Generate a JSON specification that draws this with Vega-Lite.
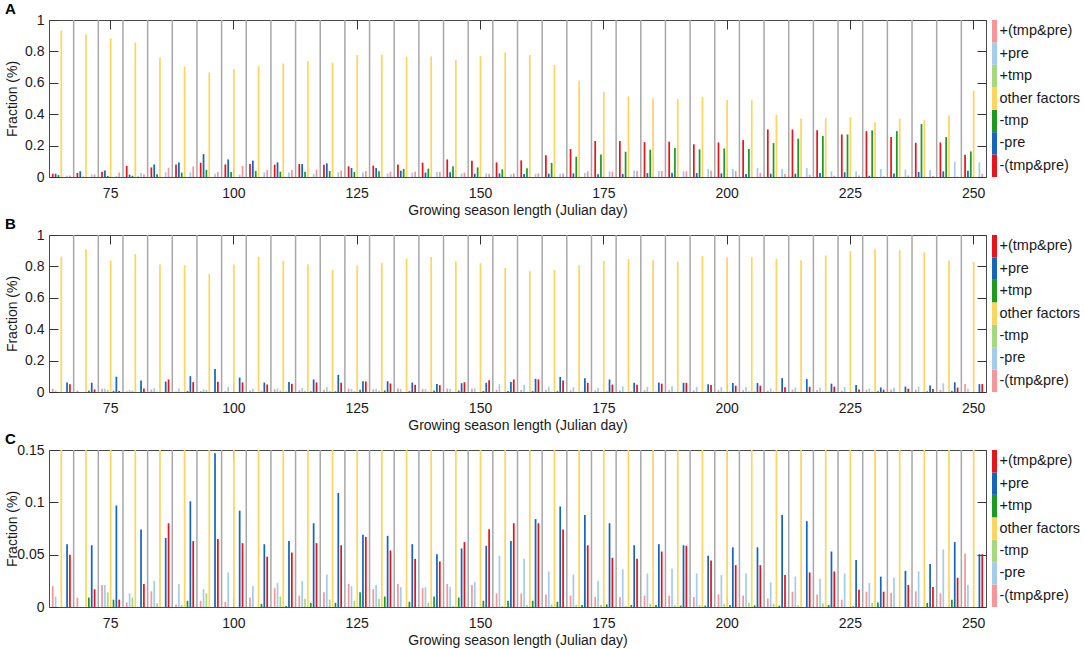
{
  "$schema": "https://vega.github.io/schema/vega-lite/v6.json",
  "padding": {"left": 4, "top": 1, "right": 0, "bottom": 0},
  "datasets": {
    "panelA": [
      {"day": 65, "neg_both": 0.021, "neg_pre": 0.021, "neg_tmp": 0.012, "other": 0.932, "pos_tmp": 0, "pos_pre": 0.008, "pos_both": 0.009},
      {"day": 70, "neg_both": 0.026, "neg_pre": 0.036, "neg_tmp": 0.002, "other": 0.909, "pos_tmp": 0, "pos_pre": 0.017, "pos_both": 0.017},
      {"day": 75, "neg_both": 0.034, "neg_pre": 0.042, "neg_tmp": 0.007, "other": 0.883, "pos_tmp": 0, "pos_pre": 0.006, "pos_both": 0.028},
      {"day": 80, "neg_both": 0.07, "neg_pre": 0.015, "neg_tmp": 0.008, "other": 0.857, "pos_tmp": 0.008, "pos_pre": 0.025, "pos_both": 0.017},
      {"day": 85, "neg_both": 0.061, "neg_pre": 0.08, "neg_tmp": 0.017, "other": 0.76, "pos_tmp": 0, "pos_pre": 0.03, "pos_both": 0.059},
      {"day": 90, "neg_both": 0.08, "neg_pre": 0.093, "neg_tmp": 0.028, "other": 0.704, "pos_tmp": 0, "pos_pre": 0.03, "pos_both": 0.067},
      {"day": 95, "neg_both": 0.091, "neg_pre": 0.146, "neg_tmp": 0.045, "other": 0.666, "pos_tmp": 0, "pos_pre": 0.02, "pos_both": 0.032},
      {"day": 100, "neg_both": 0.08, "neg_pre": 0.112, "neg_tmp": 0.032, "other": 0.69, "pos_tmp": 0, "pos_pre": 0.015, "pos_both": 0.07},
      {"day": 105, "neg_both": 0.083, "neg_pre": 0.104, "neg_tmp": 0.038, "other": 0.706, "pos_tmp": 0, "pos_pre": 0.03, "pos_both": 0.044},
      {"day": 110, "neg_both": 0.078, "neg_pre": 0.093, "neg_tmp": 0.034, "other": 0.723, "pos_tmp": 0, "pos_pre": 0.028, "pos_both": 0.044},
      {"day": 115, "neg_both": 0.083, "neg_pre": 0.083, "neg_tmp": 0.034, "other": 0.738, "pos_tmp": 0, "pos_pre": 0.019, "pos_both": 0.047},
      {"day": 120, "neg_both": 0.078, "neg_pre": 0.087, "neg_tmp": 0.038, "other": 0.728, "pos_tmp": 0, "pos_pre": 0.03, "pos_both": 0.042},
      {"day": 125, "neg_both": 0.068, "neg_pre": 0.057, "neg_tmp": 0.032, "other": 0.777, "pos_tmp": 0, "pos_pre": 0.03, "pos_both": 0.038},
      {"day": 130, "neg_both": 0.072, "neg_pre": 0.057, "neg_tmp": 0.036, "other": 0.781, "pos_tmp": 0, "pos_pre": 0.023, "pos_both": 0.034},
      {"day": 135, "neg_both": 0.08, "neg_pre": 0.04, "neg_tmp": 0.051, "other": 0.766, "pos_tmp": 0, "pos_pre": 0.028, "pos_both": 0.034},
      {"day": 140, "neg_both": 0.091, "neg_pre": 0.028, "neg_tmp": 0.053, "other": 0.768, "pos_tmp": 0, "pos_pre": 0.032, "pos_both": 0.032},
      {"day": 145, "neg_both": 0.112, "neg_pre": 0.03, "neg_tmp": 0.068, "other": 0.745, "pos_tmp": 0, "pos_pre": 0.023, "pos_both": 0.028},
      {"day": 150, "neg_both": 0.104, "neg_pre": 0.021, "neg_tmp": 0.061, "other": 0.77, "pos_tmp": 0, "pos_pre": 0.023, "pos_both": 0.021},
      {"day": 155, "neg_both": 0.093, "neg_pre": 0.023, "neg_tmp": 0.049, "other": 0.794, "pos_tmp": 0, "pos_pre": 0.017, "pos_both": 0.023},
      {"day": 160, "neg_both": 0.106, "neg_pre": 0.019, "neg_tmp": 0.055, "other": 0.777, "pos_tmp": 0, "pos_pre": 0.021, "pos_both": 0.023},
      {"day": 165, "neg_both": 0.138, "neg_pre": 0.021, "neg_tmp": 0.089, "other": 0.713, "pos_tmp": 0, "pos_pre": 0.021, "pos_both": 0.023},
      {"day": 170, "neg_both": 0.178, "neg_pre": 0.023, "neg_tmp": 0.129, "other": 0.613, "pos_tmp": 0, "pos_pre": 0.025, "pos_both": 0.036},
      {"day": 175, "neg_both": 0.229, "neg_pre": 0.017, "neg_tmp": 0.144, "other": 0.543, "pos_tmp": 0, "pos_pre": 0.036, "pos_both": 0.034},
      {"day": 180, "neg_both": 0.229, "neg_pre": 0.019, "neg_tmp": 0.161, "other": 0.513, "pos_tmp": 0, "pos_pre": 0.042, "pos_both": 0.038},
      {"day": 185, "neg_both": 0.222, "neg_pre": 0.025, "neg_tmp": 0.174, "other": 0.502, "pos_tmp": 0, "pos_pre": 0.038, "pos_both": 0.038},
      {"day": 190, "neg_both": 0.225, "neg_pre": 0.025, "neg_tmp": 0.185, "other": 0.496, "pos_tmp": 0, "pos_pre": 0.036, "pos_both": 0.036},
      {"day": 195, "neg_both": 0.208, "neg_pre": 0.025, "neg_tmp": 0.176, "other": 0.509, "pos_tmp": 0, "pos_pre": 0.051, "pos_both": 0.04},
      {"day": 200, "neg_both": 0.22, "neg_pre": 0.023, "neg_tmp": 0.182, "other": 0.491, "pos_tmp": 0, "pos_pre": 0.051, "pos_both": 0.038},
      {"day": 205, "neg_both": 0.235, "neg_pre": 0.019, "neg_tmp": 0.178, "other": 0.489, "pos_tmp": 0, "pos_pre": 0.057, "pos_both": 0.025},
      {"day": 210, "neg_both": 0.303, "neg_pre": 0.021, "neg_tmp": 0.216, "other": 0.396, "pos_tmp": 0, "pos_pre": 0.051, "pos_both": 0.019},
      {"day": 215, "neg_both": 0.303, "neg_pre": 0.021, "neg_tmp": 0.244, "other": 0.372, "pos_tmp": 0, "pos_pre": 0.057, "pos_both": 0.013},
      {"day": 220, "neg_both": 0.297, "neg_pre": 0.025, "neg_tmp": 0.261, "other": 0.377, "pos_tmp": 0, "pos_pre": 0.036, "pos_both": 0.008},
      {"day": 225, "neg_both": 0.271, "neg_pre": 0.03, "neg_tmp": 0.271, "other": 0.381, "pos_tmp": 0, "pos_pre": 0.036, "pos_both": 0.01},
      {"day": 230, "neg_both": 0.292, "neg_pre": 0.008, "neg_tmp": 0.297, "other": 0.349, "pos_tmp": 0, "pos_pre": 0.051, "pos_both": 0.004},
      {"day": 235, "neg_both": 0.254, "neg_pre": 0.023, "neg_tmp": 0.292, "other": 0.372, "pos_tmp": 0, "pos_pre": 0.047, "pos_both": 0.01},
      {"day": 240, "neg_both": 0.218, "neg_pre": 0.032, "neg_tmp": 0.337, "other": 0.362, "pos_tmp": 0, "pos_pre": 0.044, "pos_both": 0.006},
      {"day": 245, "neg_both": 0.22, "neg_pre": 0.036, "neg_tmp": 0.254, "other": 0.391, "pos_tmp": 0, "pos_pre": 0.097, "pos_both": 0.002},
      {"day": 250, "neg_both": 0.142, "neg_pre": 0.04, "neg_tmp": 0.163, "other": 0.549, "pos_tmp": 0, "pos_pre": 0.093, "pos_both": 0.021}
    ],
    "panelB": [
      {"day": 65, "neg_both": 0.02, "neg_pre": 0.01, "neg_tmp": 0, "other": 0.862, "pos_tmp": 0, "pos_pre": 0.06, "pos_both": 0.05},
      {"day": 70, "neg_both": 0.009, "neg_pre": 0, "neg_tmp": 0, "other": 0.909, "pos_tmp": 0.009, "pos_pre": 0.059, "pos_both": 0.017},
      {"day": 75, "neg_both": 0.021, "neg_pre": 0.021, "neg_tmp": 0.014, "other": 0.837, "pos_tmp": 0.007, "pos_pre": 0.097, "pos_both": 0.007},
      {"day": 80, "neg_both": 0.0045, "neg_pre": 0.013, "neg_tmp": 0.009, "other": 0.879, "pos_tmp": 0, "pos_pre": 0.074, "pos_both": 0.022},
      {"day": 85, "neg_both": 0.015, "neg_pre": 0.025, "neg_tmp": 0.0035, "other": 0.812, "pos_tmp": 0, "pos_pre": 0.066, "pos_both": 0.08},
      {"day": 90, "neg_both": 0.0025, "neg_pre": 0.022, "neg_tmp": 0.002, "other": 0.807, "pos_tmp": 0.006, "pos_pre": 0.101, "pos_both": 0.063},
      {"day": 95, "neg_both": 0.006, "neg_pre": 0.017, "neg_tmp": 0.013, "other": 0.752, "pos_tmp": 0, "pos_pre": 0.147, "pos_both": 0.065},
      {"day": 100, "neg_both": 0.005, "neg_pre": 0.033, "neg_tmp": 0, "other": 0.812, "pos_tmp": 0, "pos_pre": 0.092, "pos_both": 0.061},
      {"day": 105, "neg_both": 0.009, "neg_pre": 0.02, "neg_tmp": 0, "other": 0.862, "pos_tmp": 0.003, "pos_pre": 0.06, "pos_both": 0.048},
      {"day": 110, "neg_both": 0.018, "neg_pre": 0.023, "neg_tmp": 0.01, "other": 0.835, "pos_tmp": 0.001, "pos_pre": 0.063, "pos_both": 0.052},
      {"day": 115, "neg_both": 0.011, "neg_pre": 0.025, "neg_tmp": 0.008, "other": 0.814, "pos_tmp": 0.004, "pos_pre": 0.08, "pos_both": 0.061},
      {"day": 120, "neg_both": 0.014, "neg_pre": 0.031, "neg_tmp": 0.007, "other": 0.778, "pos_tmp": 0.004, "pos_pre": 0.109, "pos_both": 0.059},
      {"day": 125, "neg_both": 0.022, "neg_pre": 0.02, "neg_tmp": 0.006, "other": 0.805, "pos_tmp": 0.014, "pos_pre": 0.069, "pos_both": 0.067},
      {"day": 130, "neg_both": 0.017, "neg_pre": 0.021, "neg_tmp": 0.008, "other": 0.824, "pos_tmp": 0.01, "pos_pre": 0.068, "pos_both": 0.054},
      {"day": 135, "neg_both": 0.022, "neg_pre": 0.019, "neg_tmp": 0, "other": 0.85, "pos_tmp": 0.005, "pos_pre": 0.06, "pos_both": 0.046},
      {"day": 140, "neg_both": 0.018, "neg_pre": 0.019, "neg_tmp": 0.004, "other": 0.86, "pos_tmp": 0.01, "pos_pre": 0.0505, "pos_both": 0.0435},
      {"day": 145, "neg_both": 0.022, "neg_pre": 0.019, "neg_tmp": 0.001, "other": 0.833, "pos_tmp": 0.009, "pos_pre": 0.056, "pos_both": 0.062},
      {"day": 150, "neg_both": 0.021, "neg_pre": 0.024, "neg_tmp": 0, "other": 0.82, "pos_tmp": 0.006, "pos_pre": 0.0585, "pos_both": 0.0744},
      {"day": 155, "neg_both": 0.013, "neg_pre": 0.049, "neg_tmp": 0.001, "other": 0.79, "pos_tmp": 0.006, "pos_pre": 0.063, "pos_both": 0.08},
      {"day": 160, "neg_both": 0.013, "neg_pre": 0.046, "neg_tmp": 0.002, "other": 0.769, "pos_tmp": 0.006, "pos_pre": 0.084, "pos_both": 0.08},
      {"day": 165, "neg_both": 0.012, "neg_pre": 0.034, "neg_tmp": 0.0025, "other": 0.778, "pos_tmp": 0.005, "pos_pre": 0.096, "pos_both": 0.074},
      {"day": 170, "neg_both": 0.011, "neg_pre": 0.031, "neg_tmp": 0.002, "other": 0.807, "pos_tmp": 0.002, "pos_pre": 0.088, "pos_both": 0.059},
      {"day": 175, "neg_both": 0.0095, "neg_pre": 0.025, "neg_tmp": 0.002, "other": 0.835, "pos_tmp": 0.0025, "pos_pre": 0.08, "pos_both": 0.047},
      {"day": 180, "neg_both": 0.0095, "neg_pre": 0.036, "neg_tmp": 0.001, "other": 0.848, "pos_tmp": 0.002, "pos_pre": 0.059, "pos_both": 0.046},
      {"day": 185, "neg_both": 0.011, "neg_pre": 0.032, "neg_tmp": 0.003, "other": 0.839, "pos_tmp": 0.002, "pos_pre": 0.06, "pos_both": 0.053},
      {"day": 190, "neg_both": 0.011, "neg_pre": 0.0365, "neg_tmp": 0.0016, "other": 0.831, "pos_tmp": 0.0013, "pos_pre": 0.059, "pos_both": 0.0585},
      {"day": 195, "neg_both": 0.0095, "neg_pre": 0.032, "neg_tmp": 0.0016, "other": 0.865, "pos_tmp": 0.0013, "pos_pre": 0.049, "pos_both": 0.0445},
      {"day": 200, "neg_both": 0.012, "neg_pre": 0.0305, "neg_tmp": 0.003, "other": 0.858, "pos_tmp": 0.002, "pos_pre": 0.057, "pos_both": 0.04},
      {"day": 205, "neg_both": 0.011, "neg_pre": 0.032, "neg_tmp": 0.004, "other": 0.858, "pos_tmp": 0.0016, "pos_pre": 0.057, "pos_both": 0.04},
      {"day": 210, "neg_both": 0.008, "neg_pre": 0.0235, "neg_tmp": 0.003, "other": 0.848, "pos_tmp": 0.0013, "pos_pre": 0.088, "pos_both": 0.0305},
      {"day": 215, "neg_both": 0.0146, "neg_pre": 0.029, "neg_tmp": 0.0016, "other": 0.839, "pos_tmp": 0, "pos_pre": 0.082, "pos_both": 0.033},
      {"day": 220, "neg_both": 0.012, "neg_pre": 0.027, "neg_tmp": 0.0035, "other": 0.869, "pos_tmp": 0.002, "pos_pre": 0.053, "pos_both": 0.034},
      {"day": 225, "neg_both": 0.007, "neg_pre": 0.032, "neg_tmp": 0, "other": 0.898, "pos_tmp": 0.0006, "pos_pre": 0.045, "pos_both": 0.0165},
      {"day": 230, "neg_both": 0.0146, "neg_pre": 0.023, "neg_tmp": 0.004, "other": 0.911, "pos_tmp": 0.0044, "pos_pre": 0.029, "pos_both": 0.0146},
      {"day": 235, "neg_both": 0.0137, "neg_pre": 0.028, "neg_tmp": 0, "other": 0.903, "pos_tmp": 0, "pos_pre": 0.0346, "pos_both": 0.021},
      {"day": 240, "neg_both": 0.015, "neg_pre": 0.034, "neg_tmp": 0, "other": 0.89, "pos_tmp": 0.004, "pos_pre": 0.041, "pos_both": 0.019},
      {"day": 245, "neg_both": 0.013, "neg_pre": 0.055, "neg_tmp": 0, "other": 0.837, "pos_tmp": 0.007, "pos_pre": 0.062, "pos_both": 0.028},
      {"day": 250, "neg_both": 0.051, "neg_pre": 0.021, "neg_tmp": 0, "other": 0.829, "pos_tmp": 0, "pos_pre": 0.0505, "pos_both": 0.0505}
    ]
  },
  "vconcat": [
    {
      "hconcat": [
        {
          "title": {"text": "A", "anchor": "start", "frame": "bounds", "offset": -4},
          "width": 937,
          "height": 157,
          "data": {"name": "panelA"},
          "transform": [{"fold": ["neg_both", "neg_pre", "neg_tmp", "other", "pos_tmp", "pos_pre", "pos_both"], "as": ["factor", "value"]}],
          "layer": [
            {
              "transform": [{"filter": "datum.factor == 'other' && datum.day > 65"}],
              "mark": {"type": "rule", "color": "#a8a8a8", "strokeWidth": 1.5},
              "encoding": {
                "x": {"field": "day", "type": "ordinal", "bandPosition": 0,
                  "axis": {"orient": "top", "values": [75, 100, 125, 150, 175, 200, 225, 250], "labels": false, "tickSize": -9, "domain": false, "grid": false, "title": null}},
                "y": {"datum": 0, "type": "quantitative", "scale": {"domain": [0, 1], "nice": false},
                  "axis": {"orient": "right", "values": [0, 0.2, 0.4, 0.6, 0.8, 1], "labels": false, "tickSize": -9, "domain": false, "grid": false, "title": null}},
                "y2": {"datum": 1}
              }
            },
            {
              "mark": {"type": "bar", "clip": true},
              "encoding": {
                "x": {"field": "day", "type": "ordinal",
                  "scale": {"domain": [65, 70, 75, 80, 85, 90, 95, 100, 105, 110, 115, 120, 125, 130, 135, 140, 145, 150, 155, 160, 165, 170, 175, 180, 185, 190, 195, 200, 205, 210, 215, 220, 225, 230, 235, 240, 245, 250], "paddingInner": 0, "paddingOuter": 0},
                  "axis": {"orient": "bottom", "values": [75, 100, 125, 150, 175, 200, 225, 250], "labelAngle": 0, "tickSize": -9, "labelPadding": 18, "domain": false, "grid": false, "title": "Growing season length (Julian day)", "titlePadding": 3}},
                "xOffset": {"field": "factor", "type": "nominal", "sort": ["neg_both", "neg_pre", "neg_tmp", "other", "pos_tmp", "pos_pre", "pos_both"], "scale": {"paddingInner": 0.4, "paddingOuter": 1}},
                "y": {"field": "value", "type": "quantitative", "scale": {"domain": [0, 1], "nice": false},
                  "axis": {"orient": "left", "values": [0, 0.2, 0.4, 0.6, 0.8, 1], "format": ".1~f", "tickSize": -9, "labelPadding": 14, "domain": false, "grid": false, "title": "Fraction (%)", "minExtent": 28, "maxExtent": 28, "titlePadding": 2}},
                "color": {"field": "factor", "type": "nominal",
                  "scale": {"domain": ["neg_both", "neg_pre", "neg_tmp", "other", "pos_tmp", "pos_pre", "pos_both"], "range": ["#e8141c", "#1565b8", "#1d9a24", "#ffd45f", "#a8d87e", "#a4cde9", "#f7969a"]}, "legend": null}
              }
            }
          ],
          "resolve": {"axis": {"x": "independent", "y": "independent"}}
        },
        {
          "width": 5,
          "height": 157,
          "view": {"stroke": null},
          "data": {"name": "panelA"},
          "transform": [
            {"fold": ["neg_both", "neg_pre", "neg_tmp", "other", "pos_tmp", "pos_pre", "pos_both"], "as": ["factor", "value"]},
            {"filter": "datum.day == 65"}
          ],
          "mark": {"type": "rect"},
          "encoding": {
            "y": {"field": "factor", "type": "nominal", "sort": ["pos_both", "pos_pre", "pos_tmp", "other", "neg_tmp", "neg_pre", "neg_both"], "scale": {"paddingInner": 0, "paddingOuter": 0},
              "axis": {"orient": "right", "title": null, "domain": false, "ticks": false, "labelPadding": 2, "labelFontSize": 14.5,
                "labelExpr": "datum.value == 'pos_both' ? '+(tmp&pre)' : datum.value == 'pos_pre' ? '+pre' : datum.value == 'pos_tmp' ? '+tmp' : datum.value == 'other' ? 'other factors' : datum.value == 'neg_tmp' ? '-tmp' : datum.value == 'neg_pre' ? '-pre' : '-(tmp&pre)'"}},
            "color": {"field": "factor", "type": "nominal",
              "scale": {"domain": ["neg_both", "neg_pre", "neg_tmp", "other", "pos_tmp", "pos_pre", "pos_both"], "range": ["#e8141c", "#1565b8", "#1d9a24", "#ffd45f", "#a8d87e", "#a4cde9", "#f7969a"]}, "legend": null}
          }
        }
      ],
      "spacing": 5,
      "resolve": {"scale": {"x": "independent", "y": "independent"}}
    },
    {
      "hconcat": [
        {
          "title": {"text": "B", "anchor": "start", "frame": "bounds", "offset": -4},
          "width": 937,
          "height": 157,
          "data": {"name": "panelB"},
          "transform": [{"fold": ["neg_both", "neg_pre", "neg_tmp", "other", "pos_tmp", "pos_pre", "pos_both"], "as": ["factor", "value"]}],
          "layer": [
            {
              "transform": [{"filter": "datum.factor == 'other' && datum.day > 65"}],
              "mark": {"type": "rule", "color": "#a8a8a8", "strokeWidth": 1.5},
              "encoding": {
                "x": {"field": "day", "type": "ordinal", "bandPosition": 0,
                  "axis": {"orient": "top", "values": [75, 100, 125, 150, 175, 200, 225, 250], "labels": false, "tickSize": -9, "domain": false, "grid": false, "title": null}},
                "y": {"datum": 0, "type": "quantitative", "scale": {"domain": [0, 1], "nice": false},
                  "axis": {"orient": "right", "values": [0, 0.2, 0.4, 0.6, 0.8, 1], "labels": false, "tickSize": -9, "domain": false, "grid": false, "title": null}},
                "y2": {"datum": 1}
              }
            },
            {
              "mark": {"type": "bar", "clip": true},
              "encoding": {
                "x": {"field": "day", "type": "ordinal",
                  "scale": {"domain": [65, 70, 75, 80, 85, 90, 95, 100, 105, 110, 115, 120, 125, 130, 135, 140, 145, 150, 155, 160, 165, 170, 175, 180, 185, 190, 195, 200, 205, 210, 215, 220, 225, 230, 235, 240, 245, 250], "paddingInner": 0, "paddingOuter": 0},
                  "axis": {"orient": "bottom", "values": [75, 100, 125, 150, 175, 200, 225, 250], "labelAngle": 0, "tickSize": -9, "labelPadding": 18, "domain": false, "grid": false, "title": "Growing season length (Julian day)", "titlePadding": 3}},
                "xOffset": {"field": "factor", "type": "nominal", "sort": ["neg_both", "neg_pre", "neg_tmp", "other", "pos_tmp", "pos_pre", "pos_both"], "scale": {"paddingInner": 0.4, "paddingOuter": 1}},
                "y": {"field": "value", "type": "quantitative", "scale": {"domain": [0, 1], "nice": false},
                  "axis": {"orient": "left", "values": [0, 0.2, 0.4, 0.6, 0.8, 1], "format": ".1~f", "tickSize": -9, "labelPadding": 14, "domain": false, "grid": false, "title": "Fraction (%)", "minExtent": 28, "maxExtent": 28, "titlePadding": 2}},
                "color": {"field": "factor", "type": "nominal",
                  "scale": {"domain": ["neg_both", "neg_pre", "neg_tmp", "other", "pos_tmp", "pos_pre", "pos_both"], "range": ["#f7969a", "#a4cde9", "#a8d87e", "#ffd45f", "#1d9a24", "#1565b8", "#e8141c"]}, "legend": null}
              }
            }
          ],
          "resolve": {"axis": {"x": "independent", "y": "independent"}}
        },
        {
          "width": 5,
          "height": 157,
          "view": {"stroke": null},
          "data": {"name": "panelB"},
          "transform": [
            {"fold": ["neg_both", "neg_pre", "neg_tmp", "other", "pos_tmp", "pos_pre", "pos_both"], "as": ["factor", "value"]},
            {"filter": "datum.day == 65"}
          ],
          "mark": {"type": "rect"},
          "encoding": {
            "y": {"field": "factor", "type": "nominal", "sort": ["pos_both", "pos_pre", "pos_tmp", "other", "neg_tmp", "neg_pre", "neg_both"], "scale": {"paddingInner": 0, "paddingOuter": 0},
              "axis": {"orient": "right", "title": null, "domain": false, "ticks": false, "labelPadding": 2, "labelFontSize": 14.5,
                "labelExpr": "datum.value == 'pos_both' ? '+(tmp&pre)' : datum.value == 'pos_pre' ? '+pre' : datum.value == 'pos_tmp' ? '+tmp' : datum.value == 'other' ? 'other factors' : datum.value == 'neg_tmp' ? '-tmp' : datum.value == 'neg_pre' ? '-pre' : '-(tmp&pre)'"}},
            "color": {"field": "factor", "type": "nominal",
              "scale": {"domain": ["neg_both", "neg_pre", "neg_tmp", "other", "pos_tmp", "pos_pre", "pos_both"], "range": ["#f7969a", "#a4cde9", "#a8d87e", "#ffd45f", "#1d9a24", "#1565b8", "#e8141c"]}, "legend": null}
          }
        }
      ],
      "spacing": 5,
      "resolve": {"scale": {"x": "independent", "y": "independent"}}
    },
    {
      "hconcat": [
        {
          "title": {"text": "C", "anchor": "start", "frame": "bounds", "offset": -4},
          "width": 937,
          "height": 157,
          "data": {"name": "panelB"},
          "transform": [{"fold": ["neg_both", "neg_pre", "neg_tmp", "other", "pos_tmp", "pos_pre", "pos_both"], "as": ["factor", "value"]}],
          "layer": [
            {
              "transform": [{"filter": "datum.factor == 'other' && datum.day > 65"}],
              "mark": {"type": "rule", "color": "#a8a8a8", "strokeWidth": 1.5},
              "encoding": {
                "x": {"field": "day", "type": "ordinal", "bandPosition": 0,
                  "axis": {"orient": "top", "values": [75, 100, 125, 150, 175, 200, 225, 250], "labels": false, "tickSize": -9, "domain": false, "grid": false, "title": null}},
                "y": {"datum": 0, "type": "quantitative", "scale": {"domain": [0, 0.15], "nice": false},
                  "axis": {"orient": "right", "values": [0, 0.05, 0.1, 0.15], "labels": false, "tickSize": -9, "domain": false, "grid": false, "title": null}},
                "y2": {"datum": 0.15}
              }
            },
            {
              "mark": {"type": "bar", "clip": true},
              "encoding": {
                "x": {"field": "day", "type": "ordinal",
                  "scale": {"domain": [65, 70, 75, 80, 85, 90, 95, 100, 105, 110, 115, 120, 125, 130, 135, 140, 145, 150, 155, 160, 165, 170, 175, 180, 185, 190, 195, 200, 205, 210, 215, 220, 225, 230, 235, 240, 245, 250], "paddingInner": 0, "paddingOuter": 0},
                  "axis": {"orient": "bottom", "values": [75, 100, 125, 150, 175, 200, 225, 250], "labelAngle": 0, "tickSize": -9, "labelPadding": 18, "domain": false, "grid": false, "title": "Growing season length (Julian day)", "titlePadding": 3}},
                "xOffset": {"field": "factor", "type": "nominal", "sort": ["neg_both", "neg_pre", "neg_tmp", "other", "pos_tmp", "pos_pre", "pos_both"], "scale": {"paddingInner": 0.4, "paddingOuter": 1}},
                "y": {"field": "value", "type": "quantitative", "scale": {"domain": [0, 0.15], "nice": false},
                  "axis": {"orient": "left", "values": [0, 0.05, 0.1, 0.15], "format": ".2~f", "tickSize": -9, "labelPadding": 14, "domain": false, "grid": false, "title": "Fraction (%)", "minExtent": 28, "maxExtent": 28, "titlePadding": 2}},
                "color": {"field": "factor", "type": "nominal",
                  "scale": {"domain": ["neg_both", "neg_pre", "neg_tmp", "other", "pos_tmp", "pos_pre", "pos_both"], "range": ["#f7969a", "#a4cde9", "#a8d87e", "#ffd45f", "#1d9a24", "#1565b8", "#e8141c"]}, "legend": null}
              }
            }
          ],
          "resolve": {"axis": {"x": "independent", "y": "independent"}}
        },
        {
          "width": 5,
          "height": 157,
          "view": {"stroke": null},
          "data": {"name": "panelB"},
          "transform": [
            {"fold": ["neg_both", "neg_pre", "neg_tmp", "other", "pos_tmp", "pos_pre", "pos_both"], "as": ["factor", "value"]},
            {"filter": "datum.day == 65"}
          ],
          "mark": {"type": "rect"},
          "encoding": {
            "y": {"field": "factor", "type": "nominal", "sort": ["pos_both", "pos_pre", "pos_tmp", "other", "neg_tmp", "neg_pre", "neg_both"], "scale": {"paddingInner": 0, "paddingOuter": 0},
              "axis": {"orient": "right", "title": null, "domain": false, "ticks": false, "labelPadding": 2, "labelFontSize": 14.5,
                "labelExpr": "datum.value == 'pos_both' ? '+(tmp&pre)' : datum.value == 'pos_pre' ? '+pre' : datum.value == 'pos_tmp' ? '+tmp' : datum.value == 'other' ? 'other factors' : datum.value == 'neg_tmp' ? '-tmp' : datum.value == 'neg_pre' ? '-pre' : '-(tmp&pre)'"}},
            "color": {"field": "factor", "type": "nominal",
              "scale": {"domain": ["neg_both", "neg_pre", "neg_tmp", "other", "pos_tmp", "pos_pre", "pos_both"], "range": ["#f7969a", "#a4cde9", "#a8d87e", "#ffd45f", "#1d9a24", "#1565b8", "#e8141c"]}, "legend": null}
          }
        }
      ],
      "spacing": 5,
      "resolve": {"scale": {"x": "independent", "y": "independent"}}
    }
  ],
  "spacing": -2,
  "resolve": {"scale": {"color": "independent"}},
  "config": {
    "font": "Liberation Sans",
    "view": {"stroke": "#4a4a4a", "strokeWidth": 1},
    "axis": {"labelFontSize": 14, "titleFontSize": 14, "titleFontWeight": "normal", "labelColor": "#1a1a1a", "titleColor": "#1a1a1a", "tickColor": "#333333", "tickWidth": 1},
    "title": {"fontSize": 15, "fontWeight": "bold", "color": "#000000"}
  }
}
